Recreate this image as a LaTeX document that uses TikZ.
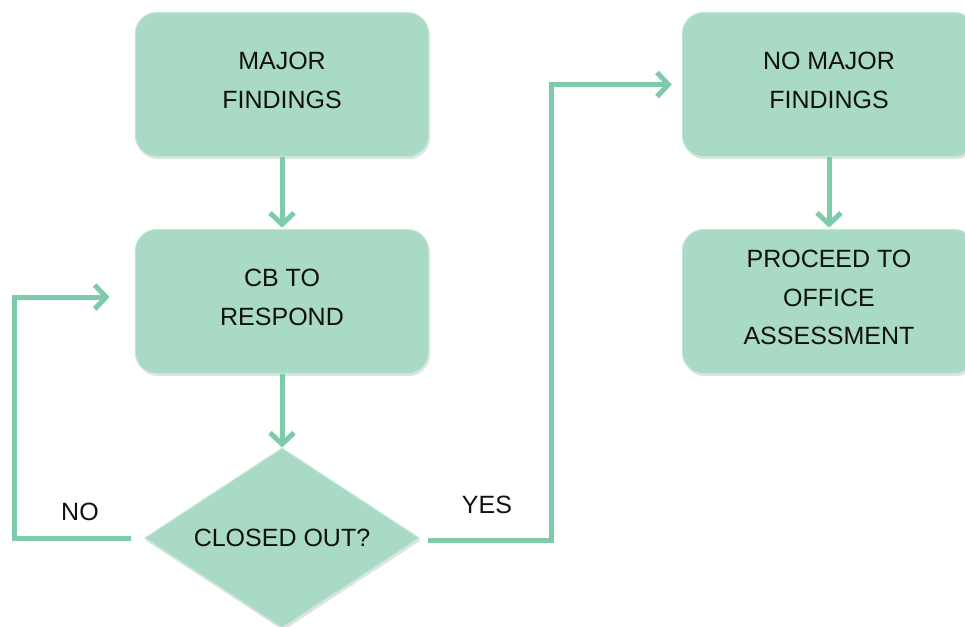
\documentclass[tikz,border=0pt]{standalone}
\usepackage{fontspec}
\setmainfont{Liberation Sans}
\usetikzlibrary{shapes.geometric,arrows.meta,shadows}
\definecolor{boxfill}{HTML}{A9DAC6}
\definecolor{boxedge}{HTML}{C4E6D7}
\definecolor{linecol}{HTML}{7DCBA8}
\definecolor{txt}{HTML}{111111}
\newcommand{\liftedtext}[1]{\raisebox{2.3pt}[\height][\depth]{\begin{tabular}{@{}c@{}}#1\end{tabular}}}
\begin{document}
\begin{tikzpicture}[x=0.75pt,y=-0.75pt,
  lbl/.style={text=txt, font=\fontsize{18.75}{29}\selectfont, align=center},
  box/.style={lbl, draw=boxedge, line width=0.8pt, fill=boxfill, rounded corners=16pt,
    minimum width=220pt, minimum height=108pt,
    drop shadow={shadow xshift=1pt, shadow yshift=-2pt, opacity=0.22}},
  dia/.style={lbl, shape=diamond, shape aspect=1.53, draw=boxedge, line width=0.8pt, fill=boxfill, inner sep=0pt,
    minimum width=206pt, minimum height=135pt,
    drop shadow={shadow xshift=1pt, shadow yshift=-2pt, opacity=0.22}},
  conn/.style={draw=linecol, line width=3.75pt, -{Straight Barb[length=8.5pt,width=18pt]},
    preaction={draw=black, opacity=0.12, transform canvas={shift={(1pt,-1.5pt)}}}}
]
\useasboundingbox (0,0) rectangle (965,626);

\node[box] (b1) at (282,84.5) {\liftedtext{MAJOR\\FINDINGS}};
\node[box] (b2) at (282,301.5) {\liftedtext{CB TO\\RESPOND}};
\node[dia] (dec) at (282,538) {CLOSED OUT?};
\node[box] (b3) at (829,84.5) {\liftedtext{NO MAJOR\\FINDINGS}};
\node[box] (b4) at (829,301.5) {\liftedtext{PROCEED TO\\OFFICE\\ASSESSMENT}};

\node[lbl] (no) at (80,512) {NO};
\node[lbl] (yes) at (487,505) {YES};

\coordinate (nocorner) at (14,297);
\coordinate (yescorner) at (551,84.5);

\draw[conn] (b1.south) -- ([yshift=1pt]b2.north);
\draw[conn] (b2.south) -- (dec.north);
\draw[conn] (b3.south) -- ([yshift=1pt]b4.north);
\draw[conn] ([xshift=-10pt]dec.west) -| (nocorner) -- ([xshift=-19pt]b2.west |- nocorner);
\draw[conn] ([xshift=6pt,yshift=-2pt]dec.east) -| (yescorner) -- ([xshift=-7.5pt]b3.west);
\end{tikzpicture}
\end{document}
